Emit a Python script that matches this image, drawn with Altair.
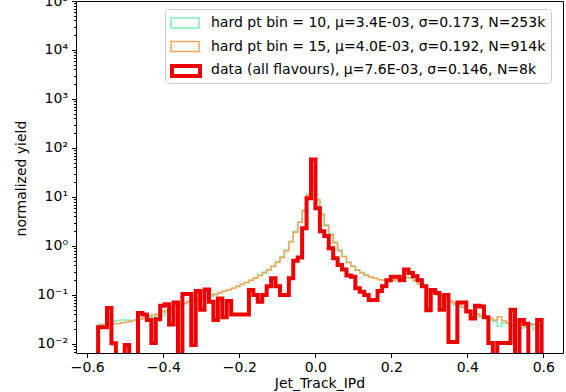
import altair as alt
import pandas as pd

# Histogram binning (100 bins)
BIN_START = -0.5715
BIN_WIDTH = 0.01167

LABELS = [
    "hard pt bin = 10, μ=3.4E-03, σ=0.173, N=253k",
    "hard pt bin = 15, μ=4.0E-03, σ=0.192, N=914k",
    "data (all flavours), μ=7.6E-03, σ=0.146, N=8k",
]
COLORS = ["#7ff0b2", "#f5a65c", "#ee0000"]
WIDTHS = [1.5, 1.5, 4]

green = [0.025, 0.026, 0.028, 0.029, 0.03, 0.031, 0.031, 0.03, 0.031, 0.032,
         0.033, 0.034, 0.036, 0.038, 0.039, 0.042, 0.05, 0.055, 0.06, 0.066,
         0.07, 0.075, 0.08, 0.085, 0.088, 0.093, 0.1, 0.11, 0.118, 0.127,
         0.136, 0.148, 0.162, 0.18, 0.2, 0.225, 0.255, 0.29, 0.33, 0.39,
         0.48, 0.6, 0.83, 1.25, 2.0, 3.1, 5.4, 11.5, 20, 9.0,
         4.5, 2.7, 1.75, 1.2, 0.83, 0.62, 0.47, 0.39, 0.33, 0.29,
         0.255, 0.235, 0.22, 0.205, 0.2, 0.195, 0.195, 0.205, 0.215, 0.225,
         0.22, 0.195, 0.165, 0.145, 0.125, 0.115, 0.1, 0.09, 0.08, 0.071,
         0.064, 0.06, 0.055, 0.047, 0.041, 0.037, 0.035, 0.033, 0.031, 0.029,
         0.023, 0.027, 0.026, 0.024, 0.023, 0.021, 0.022, 0.024, 0.02, 0.023]

orange = [0.024, 0.024, 0.025, 0.026, 0.026, 0.027, 0.028, 0.029, 0.031, 0.032,
          0.034, 0.037, 0.039, 0.041, 0.045, 0.048, 0.053, 0.057, 0.062, 0.068,
          0.074, 0.08, 0.085, 0.09, 0.095, 0.1, 0.105, 0.112, 0.12, 0.128,
          0.138, 0.15, 0.165, 0.18, 0.2, 0.22, 0.25, 0.28, 0.32, 0.38,
          0.46, 0.58, 0.8, 1.2, 1.9, 3.0, 5.2, 11, 22, 8.8,
          4.4, 2.6, 1.7, 1.15, 0.8, 0.6, 0.46, 0.38, 0.32, 0.28,
          0.25, 0.235, 0.22, 0.205, 0.2, 0.2, 0.2, 0.21, 0.22, 0.23,
          0.23, 0.2, 0.17, 0.15, 0.13, 0.12, 0.108, 0.095, 0.085, 0.075,
          0.068, 0.062, 0.056, 0.05, 0.045, 0.041, 0.038, 0.035, 0.033, 0.031,
          0.036, 0.03, 0.027, 0.025, 0.026, 0.024, 0.023, 0.026, 0.025, 0.024]

red = [0.022, 0.022, 0.054, 0.0104, 0, 0, 0.0095, 0, 0, 0.043,
       0.04, 0.031, 0.0105, 0.032, 0.06, 0.065, 0.025, 0.07, 0, 0.105,
       0.105, 0.0095, 0.12, 0.05, 0.13, 0.073, 0.031, 0.085, 0.035, 0.075,
       0.04, 0.04, 0.04, 0.04, 0.127, 0.1, 0.073, 0.1, 0.15, 0.22,
       0.15, 0.1, 0.1, 0.22, 0.5, 0.58, 2.3, 9.4, 58, 5.9,
       2.0, 1.6, 0.9, 0.56, 0.41, 0.33, 0.25, 0.236, 0.137, 0.117,
       0.1, 0.079, 0.079, 0.12, 0.15, 0.2, 0.236, 0.236, 0.2, 0.33,
       0.28, 0.24, 0.2, 0.15, 0.049, 0.127, 0.11, 0.05, 0.1, 0.011,
       0.011, 0.07, 0.07, 0.046, 0.033, 0.06, 0.058, 0.035, 0.0105, 0,
       0.0105, 0.0105, 0.0105, 0.05, 0, 0.031, 0.026, 0, 0, 0.031]

X_TICKS = [-0.6, -0.4, -0.2, 0.0, 0.2, 0.4, 0.6]
Y_TICKS = [1e-2, 1e-1, 1e0, 1e1, 1e2, 1e3, 1e4, 1e5]
Y_MINOR = [m * 10.0 ** k for k in range(-3, 5) for m in range(2, 10)
           if 0.00655 <= m * 10.0 ** k <= 1e5]

rows = []
for name, vals in zip(LABELS, [green, orange, red]):
    n = len(vals)
    edges = [BIN_START + i * BIN_WIDTH for i in range(n + 1)]
    seq = [(edges[0], 0.0)] + [(edges[i], vals[i]) for i in range(n)] + [(edges[n], 0.0)]
    for k, (x, y) in enumerate(seq):
        rows.append({"series": name, "x": x, "y": y, "k": k})
df = pd.DataFrame(rows)

FONT = "DejaVu Sans"
FS = 14
x_scale = alt.Scale(domain=[-0.6297, 0.6518], nice=False, zero=False)
y_scale = alt.Scale(type="log", domain=[0.00655, 1e5], nice=False)

x_axis = alt.Axis(values=X_TICKS, format=".1f",
                  labelExpr="replace(datum.label, '-', '−')",
                  title="Jet_Track_IPd", grid=False, tickSize=4.5,
                  labelPadding=3, titlePadding=2, domain=False)
y_axis = alt.Axis(values=Y_TICKS,
                  labelExpr="['10⁻²','10⁻¹','10⁰','10¹','10²','10³','10⁴','10⁵'][round(log(datum.value)/LN10)+2]",
                  title="normalized yield", grid=False, tickSize=4.5,
                  labelPadding=4, titleX=-48, titleY=177, domain=False)
y_minor_axis = alt.Axis(values=Y_MINOR, labels=False, tickSize=2.5, grid=False,
                        title=None, domain=False, orient="left")

LEG_X, LEG_Y, ROW = 89, 8, 24
SYMBOL = "M-1.75,-0.625H1.75V0.625H-1.75Z"
common = dict(title=None, orient="none", legendX=LEG_X,
              symbolType=SYMBOL, symbolSize=256, symbolOffset=6,
              symbolFillColor="transparent", labelOffset=17,
              labelFontSize=FS, labelFont=FONT, labelLimit=600,
              rowPadding=6.5, padding=5)

legend_all = alt.Legend(legendY=LEG_Y, labelColor="black", symbolStrokeWidth=1.5,
                        fillColor="white", strokeColor="#cccccc", cornerRadius=3,
                        **common)
# thick symbol for the data entry, laid over the third row
legend_thick = alt.Legend(legendY=LEG_Y + 2 * ROW - 1, labelExpr="''",
                          symbolStrokeColor=COLORS[2], zindex=2, **common)

color = alt.Color("series:N", scale=alt.Scale(domain=LABELS, range=COLORS), legend=legend_all)

base = alt.Chart(df).transform_calculate(yv="max(datum.y, 1e-4)")

lines = []
for name, w in zip(LABELS, WIDTHS):
    enc = dict(x=alt.X("x:Q", scale=x_scale, axis=x_axis),
               y=alt.Y("yv:Q", scale=y_scale, axis=y_axis),
               color=color, order="k:Q")
    mark_kw = dict(interpolate="step-after", clip=True)
    if w > 2:
        enc["strokeWidth"] = alt.StrokeWidth(
            "series:N", scale=alt.Scale(domain=[name], range=[w, w]),
            legend=legend_thick)
    else:
        mark_kw["strokeWidth"] = w
    lines.append(base.transform_filter(alt.datum.series == name)
                 .mark_line(**mark_kw).encode(**enc))

minor = base.mark_point(opacity=0, clip=True).encode(
    x=alt.X("x:Q", scale=x_scale, axis=x_axis),
    y=alt.Y("yv:Q", scale=y_scale, axis=y_minor_axis),
)

chart = (
    alt.layer(alt.layer(*lines), minor)
    .resolve_axis(y="independent")
    .properties(width=487, height=352,
                autosize=alt.AutoSizeParams(type="none"),
                padding={"left": 76, "top": 1, "right": 3, "bottom": 39})
    .configure_view(stroke="black", strokeWidth=1)
    .configure_axis(labelFont=FONT, titleFont=FONT, labelFontSize=FS,
                    titleFontSize=FS, titleFontWeight="normal",
                    labelColor="black", titleColor="black", tickColor="black")
)

chart.save("out.html", embed_options={"renderer": "svg", "actions": False})
